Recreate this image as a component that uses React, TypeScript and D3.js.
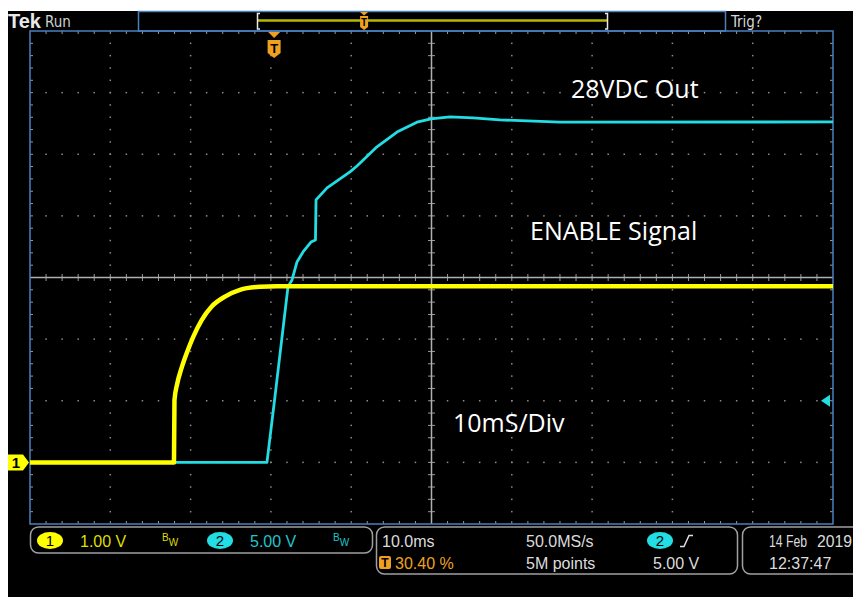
import * as d3 from 'd3';

// scope window: 10 divisions of 10 ms, 8 vertical divisions
const TIME_DIV_MS = 10;
const H_DIVS = 10;
const V_DIVS = 8;

// CH1 (ENABLE, 1 V/div)
const ch1Time = [0, 17.93, 17.99, 18.34, 18.85, 19.51, 20.34, 21.38, 22.63, 24.28, 26.15, 28.64, 30.76, 100];
const ch1Volts = [0, 0, 1.01, 1.28, 1.52, 1.77, 2.04, 2.31, 2.53, 2.69, 2.8, 2.85, 2.86, 2.86];

// CH2 (28VDC out, 5 V/div)
const ch2Time = [0, 29.51, 30.51, 32.13, 32.63, 33.25, 34.0, 34.99, 35.55, 35.62, 36.99, 39.85, 40.72, 43.21, 45.7, 48.19, 49.94, 52.3, 55.17, 58.5, 66.0, 100];
const ch2Volts = [0, 0, 5.35, 14.26, 14.8, 16.26, 17.07, 17.88, 18.05, 21.3, 22.27, 23.57, 24.05, 25.6, 26.8, 27.6, 27.87, 28.03, 27.95, 27.79, 27.6, 27.62];

const ch1Scale = { label: '1.00 V', voltsPerDiv: 1, offsetDivs: -3 };
const ch2Scale = { label: '5.00 V', voltsPerDiv: 5, offsetDivs: -3 };
const triggerPct = 30.4;
const triggerLevel = 5.0;

const annotations = [
  { text: '28VDC Out', x: 571, y: 98 },
  { text: 'ENABLE Signal', x: 530, y: 240 },
  { text: '10mS/Div', x: 453, y: 432 },
];

const readout = {
  timebase: '10.0ms',
  trigPos: '30.40 %',
  sampleRate: '50.0MS/s',
  recordLen: '5M points',
  trigLevel: '5.00 V',
  day: '14 Feb',
  year: '2019',
  time: '12:37:47',
};

const W = 853;
const H = 597;
const G = { left: 30, right: 833, top: 31, bottom: 524 };

const YELLOW = '#ffff00';
const CYAN = '#22dde3';
const ORANGE = '#f0a020';
const BLUE = '#4a80c0';
const UI_FONT = "'Liberation Sans', Arial, sans-serif";
const NARROW = "'Liberation Sans Narrow', 'DejaVu Sans Condensed', 'Liberation Sans', sans-serif";

export default function App() {
  const x = d3.scaleLinear().domain([0, H_DIVS * TIME_DIV_MS]).range([G.left, G.right]);
  const xDiv = d3.scaleLinear().domain([0, H_DIVS]).range([G.left, G.right]);
  const yDiv = d3.scaleLinear().domain([0, V_DIVS]).range([G.top, G.bottom]);

  const chY = (s: { voltsPerDiv: number; offsetDivs: number }) =>
    d3.scaleLinear()
      .domain([(-V_DIVS / 2 - s.offsetDivs) * s.voltsPerDiv, (V_DIVS / 2 - s.offsetDivs) * s.voltsPerDiv])
      .range([G.bottom, G.top]);
  const y1 = chY(ch1Scale);
  const y2 = chY(ch2Scale);

  const line1 = d3.line<number>().x((_, i) => x(ch1Time[i])).y(v => y1(v)).curve(d3.curveMonotoneX);
  const line2 = d3.line<number>().x((_, i) => x(ch2Time[i])).y(v => y2(v));

  const minorX = d3.range(1, H_DIVS * 5).map(m => xDiv(m / 5));
  const minorY = d3.range(1, V_DIVS * 5).map(m => yDiv(m / 5));
  const cx = xDiv(H_DIVS / 2);
  const cy = yDiv(V_DIVS / 2);

  const dots: [number, number][] = [];
  d3.range(1, H_DIVS).filter(k => k !== H_DIVS / 2).forEach(k => {
    minorY.forEach(yy => dots.push([xDiv(k), yy]));
  });
  d3.range(1, V_DIVS).filter(j => j !== V_DIVS / 2).forEach(j => {
    minorX.forEach(xx => dots.push([xx, yDiv(j)]));
  });

  const trigX = x((triggerPct / 100) * H_DIVS * TIME_DIV_MS);
  const recX = d3.scaleLinear().domain([0, 100]).range([258, 607]);
  const ch1Zero = y1(0);
  const trigY = y2(triggerLevel);

  return (
    <svg width={W} height={H} style={{ position: 'absolute', left: 0, top: 0, display: 'block' }}>
      <rect width={W} height={H} fill="#fff" />
      <rect x={8} y={11} width={W - 8} height={H - 11} fill="#000" />

      {/* header */}
      <text x={8} y={28} fill="#e8e8e8" fontFamily={UI_FONT} fontWeight="bold" fontSize={20}>Tek</text>
      <text x={45} y={27} fill="#d0d0d0" fontFamily={NARROW} fontSize={15}>Run</text>
      <rect x={138.5} y={11.5} width={587} height={19.5} fill="none" stroke={BLUE} strokeWidth={1.5} />
      <line x1={recX(0)} x2={recX(100)} y1={20.5} y2={20.5} stroke="#b8b800" strokeWidth={2.5} />
      <path d="M260,13.5 L257.5,13.5 L257.5,29 L260,29" fill="none" stroke="#e8e8e8" strokeWidth={1.5} />
      <path d="M605,13.5 L607.5,13.5 L607.5,29 L605,29" fill="none" stroke="#e8e8e8" strokeWidth={1.5} />
      <g transform={`translate(${recX(triggerPct)},0)`}>
        <path d="M-4,12 L4,12 L0,15.5 Z" fill={ORANGE} />
        <path d="M-4,16 L4,16 L4,27 L0,30 L-4,27 Z" fill={ORANGE} />
        <text x={0} y={26} textAnchor="middle" fontSize={10} fontWeight="bold" fontFamily={UI_FONT} fill="#000">T</text>
      </g>
      <text x={731} y={27} fill="#d8d8d8" fontFamily={NARROW} fontSize={15}>Trig?</text>

      {/* graticule */}
      <g>
        {dots.map(([px, py], i) => (
          <rect key={i} x={px - 0.75} y={py - 0.75} width={1.5} height={1.5} fill="#8c8c8c" />
        ))}
        {minorX.map((xx, i) => (
          <g key={`tx${i}`} stroke="#9a9a9a" strokeWidth={1}>
            <line x1={xx} x2={xx} y1={G.top} y2={G.top + 3} />
            <line x1={xx} x2={xx} y1={G.bottom - 3} y2={G.bottom} />
            <line x1={xx} x2={xx} y1={cy - 3.5} y2={cy + 3.5} />
          </g>
        ))}
        {minorY.map((yy, i) => (
          <g key={`ty${i}`} stroke="#9a9a9a" strokeWidth={1}>
            <line x1={G.left} x2={G.left + 3} y1={yy} y2={yy} />
            <line x1={G.right - 3} x2={G.right} y1={yy} y2={yy} />
            <line x1={cx - 3.5} x2={cx + 3.5} y1={yy} y2={yy} />
          </g>
        ))}
        <line x1={cx} x2={cx} y1={G.top} y2={G.bottom} stroke="#b0b0b0" strokeWidth={1.5} />
        <line x1={G.left} x2={G.right} y1={cy} y2={cy} stroke="#b0b0b0" strokeWidth={1.5} />
        <rect x={G.left} y={G.top} width={G.right - G.left} height={G.bottom - G.top} fill="none" stroke={BLUE} strokeWidth={1.5} />
      </g>

      {/* traces */}
      <path d={line2(ch2Volts) ?? ''} fill="none" stroke={CYAN} strokeWidth={2.8} strokeLinejoin="round" />
      <path d={line1(ch1Volts) ?? ''} fill="none" stroke={YELLOW} strokeWidth={4.5} strokeLinejoin="round" />

      {/* markers */}
      <g transform={`translate(${trigX},0)`}>
        <path d="M-6,32 L6,32 L0,38 Z" fill={ORANGE} />
        <path d="M-6.5,40 L6.5,40 L6.5,53 L0,58 L-6.5,53 Z" fill={ORANGE} />
        <text x={0} y={53} textAnchor="middle" fontSize={13} fontWeight="bold" fontFamily={UI_FONT} fill="#000">T</text>
      </g>
      <g transform={`translate(0,${ch1Zero})`}>
        <path d="M8,-8 L23,-8 L29,0 L23,8 L8,8 Z" fill={YELLOW} />
        <text x={16} y={5.5} textAnchor="middle" fontSize={15} fontWeight="bold" fontFamily={UI_FONT} fill="#000">1</text>
      </g>
      <path d={`M${G.right - 12},${trigY} L${G.right - 3},${trigY - 6} L${G.right - 3},${trigY + 6} Z`} fill={CYAN} />

      {/* annotations */}
      {annotations.map(a => (
        <text key={a.text} x={a.x} y={a.y} fill="#fff" fontFamily="'Open Sans', 'Noto Sans', sans-serif" fontSize={25}>{a.text}</text>
      ))}

      {/* readout panel */}
      <g fontFamily={UI_FONT} fontSize={16}>
        <rect x={30.5} y={527} width={342} height={26} rx={8} fill="none" stroke="#a0a0a0" strokeWidth={1.5} />
        <ellipse cx={50} cy={540.5} rx={13} ry={8.5} fill={YELLOW} />
        <text x={50} y={546} textAnchor="middle" fill="#000" fontSize={15}>1</text>
        <text x={80} y={547} fill="#dede00">{ch1Scale.label}</text>
        <text x={162} y={541} fill="#dede00" fontSize={10}>B<tspan dy={5}>W</tspan></text>
        <ellipse cx={220} cy={540.5} rx={13} ry={8.5} fill={CYAN} />
        <text x={220} y={546} textAnchor="middle" fill="#000" fontSize={15}>2</text>
        <text x={250} y={547} fill="#20c4cc">{ch2Scale.label}</text>
        <text x={333} y={541} fill="#20c4cc" fontSize={10}>B<tspan dy={5}>W</tspan></text>

        <rect x={376.5} y={527} width={361} height={47} rx={8} fill="none" stroke="#a0a0a0" strokeWidth={1.5} />
        <text x={382} y={547} fill="#dcdcdc">{readout.timebase}</text>
        <rect x={379} y={556} width={12} height={13} rx={2} fill={ORANGE} />
        <text x={385} y={567} textAnchor="middle" fill="#000" fontSize={12} fontWeight="bold">T</text>
        <text x={395} y={569} fill={ORANGE}>{readout.trigPos}</text>
        <text x={526} y={547} fill="#dcdcdc">{readout.sampleRate}</text>
        <text x={526} y={569} fill="#dcdcdc">{readout.recordLen}</text>
        <ellipse cx={660} cy={540.5} rx={13} ry={8.5} fill={CYAN} />
        <text x={660} y={546} textAnchor="middle" fill="#000" fontSize={15}>2</text>
        <path d="M680,546.5 L684,546.5 L689,535.5 L693,535.5" fill="none" stroke="#e0e0e0" strokeWidth={1.5} />
        <text x={653} y={569} fill="#dcdcdc">{readout.trigLevel}</text>

        <rect x={742.5} y={527} width={130} height={47} rx={8} fill="none" stroke="#a0a0a0" strokeWidth={1.5} />
        <text x={769} y={547} fill="#dcdcdc" textLength={38} lengthAdjust="spacingAndGlyphs">{readout.day}</text>
        <text x={817} y={547} fill="#dcdcdc" textLength={35} lengthAdjust="spacingAndGlyphs">{readout.year}</text>
        <text x={769} y={569} fill="#dcdcdc">{readout.time}</text>
      </g>
    </svg>
  );
}
